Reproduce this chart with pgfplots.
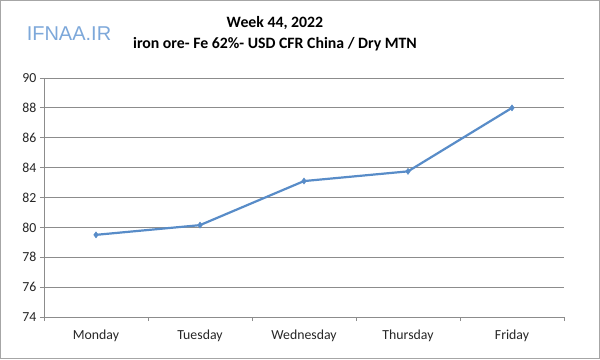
\documentclass[border=0pt]{standalone}
\usepackage{pgfplots}
\pgfplotsset{compat=1.18}
\usepackage{fontspec}
\setmainfont{Carlito}
\newfontfamily\logofont{Liberation Sans}
\definecolor{linec}{RGB}{88,140,200}
\definecolor{gridc}{RGB}{140,140,140}
\definecolor{logoc}{RGB}{125,168,218}
\begin{document}
\begin{tikzpicture}[x=1pt,y=1pt]
\fill[white] (0,0) rectangle (600,359);
\draw[gray!70, line width=1pt] (0.5,0.5) rectangle (599.5,358.5);
\node[font=\fontsize{15.8}{18}\selectfont\bfseries, anchor=center] at (275,336) {Week 44, 2022};
\node[font=\fontsize{15.8}{18}\selectfont\bfseries, anchor=center] at (275,315) {iron ore- Fe 62\%- USD CFR China / Dry MTN};
\node[font=\logofont\fontsize{20}{22}\selectfont, text=logoc, anchor=center] at (69,325) {IFNAA.IR};
\begin{axis}[
  at={(44pt,42pt)}, anchor=south west,
  scale only axis, width=520pt, height=239pt,
  xmin=-0.5, xmax=4.5, ymin=74, ymax=90,
  xtick={0,1,2,3,4},
  xticklabels={Monday,Tuesday,Wednesday,Thursday,Friday},
  minor xtick={-0.5,0.5,1.5,2.5,3.5,4.5},
  ytick={74,76,...,90},
  axis x line*=bottom, axis y line*=left,
  axis line style={gridc, line width=0.8pt, -},
  ymajorgrids, major grid style={gridc, line width=0.8pt},
  major x tick style={draw=none},
  minor x tick style={gridc, line width=0.8pt},
  major y tick style={gridc, line width=0.8pt},
  tick align=outside,
  major tick length=4pt, minor tick length=4pt,
  ticklabel style={font=\fontsize{13.8}{16}\selectfont, text=black!85},
  xticklabel style={yshift=-5pt},
  /pgf/number format/assume math mode=true,
  clip=false,
]
\addplot[color=linec, line width=2.2pt, mark=diamond*, mark size=3pt, mark options={fill=linec, draw=linec, line width=0.5pt}]
  coordinates {(0,79.5) (1,80.15) (2,83.1) (3,83.75) (4,88.0)};
\end{axis}
\end{tikzpicture}
\end{document}
